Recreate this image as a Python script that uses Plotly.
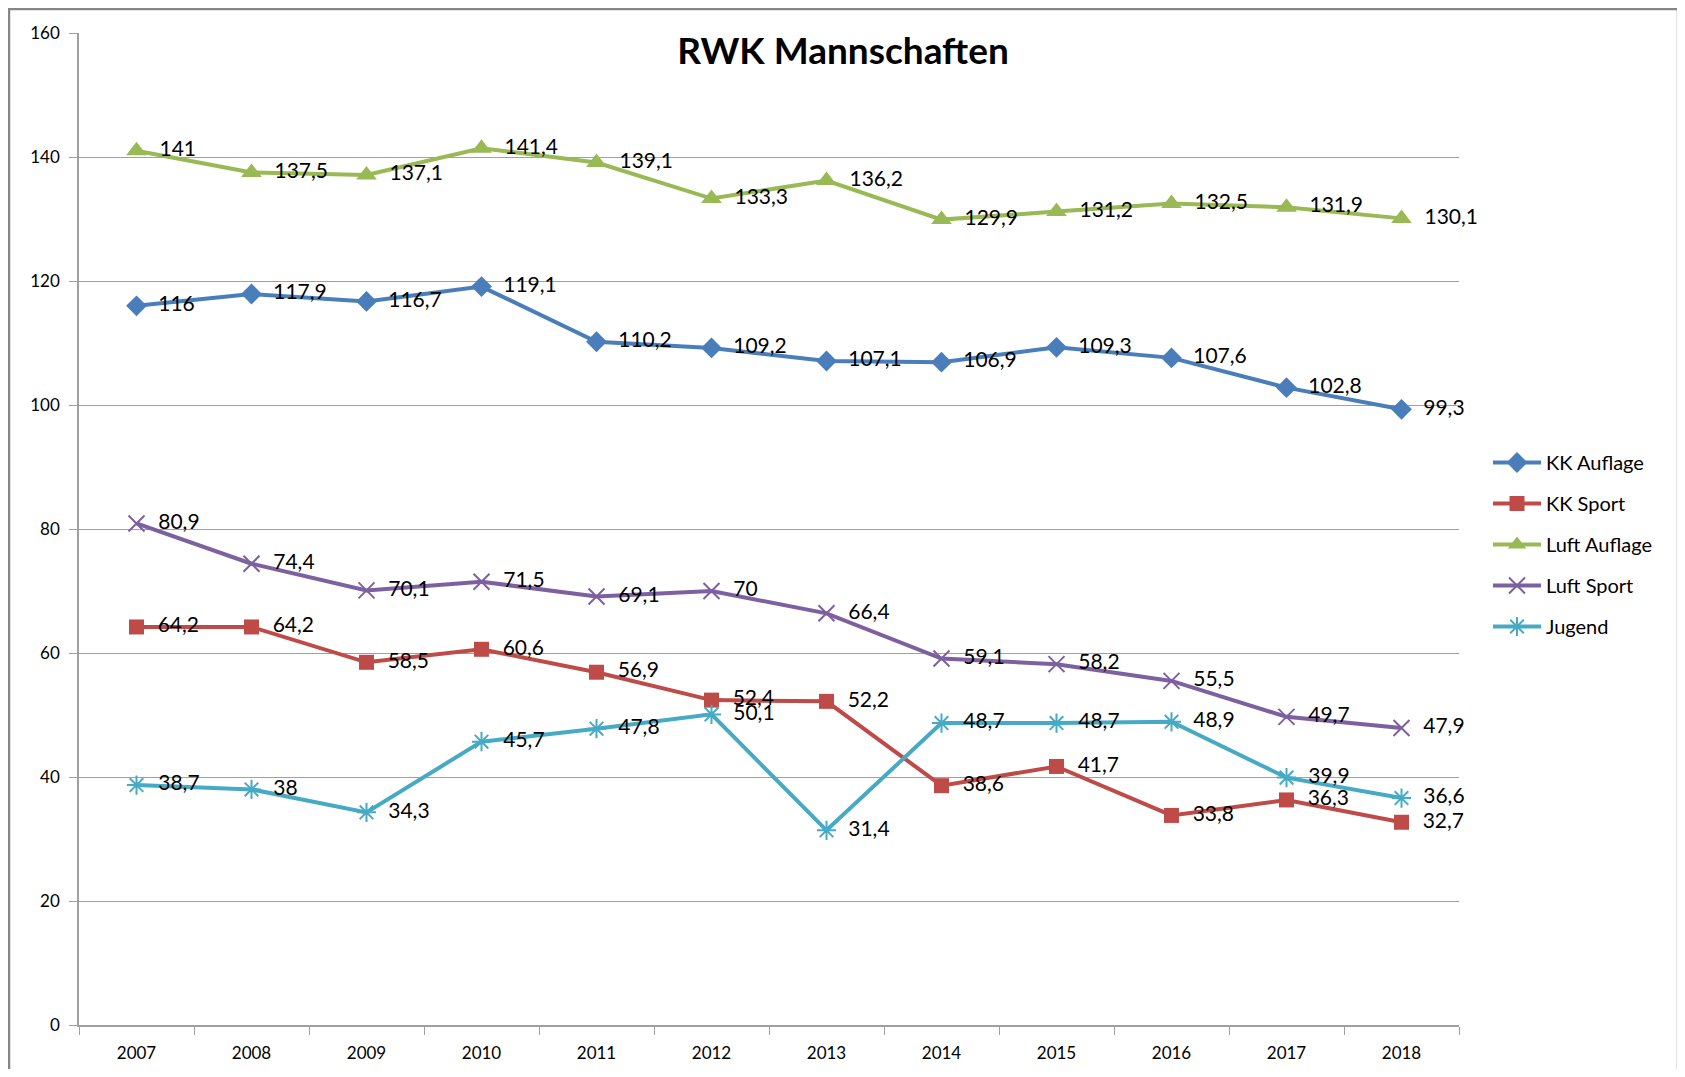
import plotly.graph_objects as go

years = ["2007", "2008", "2009", "2010", "2011", "2012", "2013", "2014", "2015", "2016", "2017", "2018"]
kk_auflage = [116, 117.9, 116.7, 119.1, 110.2, 109.2, 107.1, 106.9, 109.3, 107.6, 102.8, 99.3]
kk_sport = [64.2, 64.2, 58.5, 60.6, 56.9, 52.4, 52.2, 38.6, 41.7, 33.8, 36.3, 32.7]
luft_auflage = [141, 137.5, 137.1, 141.4, 139.1, 133.3, 136.2, 129.9, 131.2, 132.5, 131.9, 130.1]
luft_sport = [80.9, 74.4, 70.1, 71.5, 69.1, 70, 66.4, 59.1, 58.2, 55.5, 49.7, 47.9]
jugend = [38.7, 38, 34.3, 45.7, 47.8, 50.1, 31.4, 48.7, 48.7, 48.9, 39.9, 36.6]

series = [
    ("KK Auflage", kk_auflage, "#4A7EBB", dict(symbol="diamond", size=16)),
    ("KK Sport", kk_sport, "#BE4B48", dict(symbol="square", size=15)),
    ("Luft Auflage", luft_auflage, "#98B954", dict(symbol="triangle-up", size=18)),
    ("Luft Sport", luft_sport, "#7D60A0", dict(symbol="x-thin-open", size=16, line=dict(width=2))),
    ("Jugend", jugend, "#46AAC5", dict(symbol="asterisk-open", size=16, line=dict(width=2))),
]

FONT = "Lato, 'Open Sans', sans-serif"

# figure sits at an 8px page offset; plot area in figure pixels
W, H = 1677, 1061
PL, PR, PT, PB = 71, 1451, 25, 1017
PW, PH = PR - PL, PB - PT


def fmt(v):
    s = ("%g" % v).replace(".", ",")
    return "  " + s


fig = go.Figure()
for name, vals, col, mk in series:
    marker = dict(color=col, symbol=mk["symbol"], size=mk["size"])
    if "line" in mk:
        marker["line"] = dict(color=col, width=mk["line"]["width"])
    fig.add_trace(go.Scatter(
        x=years, y=vals, name=name, mode="lines+markers+text",
        line=dict(color=col, width=4),
        marker=marker,
        text=[fmt(v) for v in vals],
        textposition="middle right",
        textfont=dict(family=FONT, size=21, color="#000000"),
        legendgroup=name,
        cliponaxis=False,
    ))

fig.update_layout(
    width=W, height=H,
    margin=dict(l=PL, r=W - PR, t=PT, b=H - PB, autoexpand=False),
    paper_bgcolor="white", plot_bgcolor="white",
    font=dict(family=FONT, size=17, color="#000000"),
    title=dict(text="<b>RWK Mannschaften</b>", x=835 / W, xanchor="center",
               y=1 - 43 / H, yanchor="middle",
               font=dict(family=FONT, size=37, color="#000000")),
    legend=dict(x=(1480 - PL) / PW, y=(PB - 435) / PH, xanchor="left", yanchor="top",
                font=dict(family=FONT, size=20), tracegroupgap=12,
                itemwidth=48, bgcolor="rgba(0,0,0,0)"),
    showlegend=True,
)

fig.update_xaxes(
    type="category", range=[-0.5, 11.5], automargin=False,
    showline=True, linecolor="#A0A0A0", linewidth=1.5,
    ticks="outside", tickson="boundaries", ticklen=8, tickcolor="#A0A0A0",
    showgrid=False, tickfont=dict(size=17), ticklabelstandoff=12,
)
fig.update_yaxes(
    range=[0, 160], dtick=20, tick0=0, automargin=False,
    showline=True, linecolor="#A0A0A0", linewidth=1.5,
    ticks="outside", ticklen=8, tickcolor="#A0A0A0",
    showgrid=True, gridcolor="#A0A0A0", gridwidth=1.2,
    zeroline=False, tickfont=dict(size=17), ticklabelstandoff=6,
)

# outer chart border
fig.add_shape(type="rect", xref="paper", yref="paper",
              x0=(1 - PL) / PW, x1=(1670 - PL) / PW,
              y0=(PB - 1080) / PH, y1=(PB - 1) / PH,
              line=dict(color="#868686", width=2.5), layer="below")

fig.write_html("out.html")
